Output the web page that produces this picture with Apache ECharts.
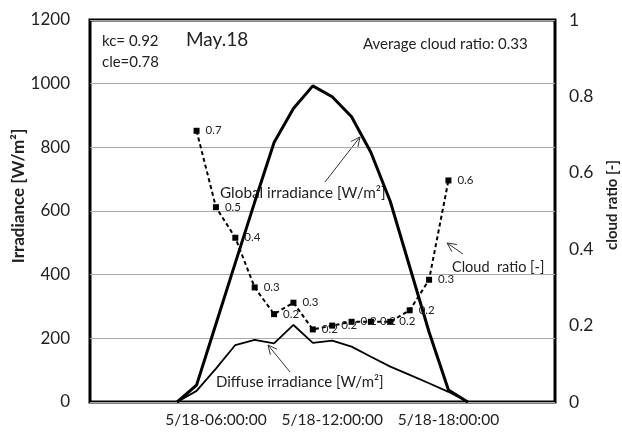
<!DOCTYPE html>
<html><head><meta charset="utf-8">
<script src="https://cdn.jsdelivr.net/npm/echarts@6/dist/echarts.min.js"></script>
<style>html,body{margin:0;padding:0;background:#fff}#c{width:622px;height:433px}</style>
</head><body><div id="c"></div>
<script>
var hours = ['00','01','02','03','04','05','06','07','08','09','10','11','12','13','14','15','16','17','18','19','20','21','22','23'];
var shownHours = ['06','12','18'];
var globalIrr = [null,null,null,null,0,53,245,437,628,815,922,993,959,896,784,630,425,220,38,0,null,null,null,null];
var diffuseIrr = [null,null,null,null,0,35,105,179,195,184,242,186,193,174,142,111,85,59,32,0,null,null,null,null];
var cloudRatio = [null,null,null,null,null,0.71,0.51,0.43,0.30,0.23,0.26,0.19,0.20,0.21,0.21,0.21,0.24,0.32,0.58,null,null,null,null,null];
var leftTicks = [0,200,400,600,800,1000,1200];
var rightTicks = [0,0.2,0.4,0.6,0.8,1];

var F = 'Lato, "Open Sans", sans-serif';
var chart = echarts.init(document.getElementById('c'));

function arrow(x1,y1,x2,y2){
  var a = Math.atan2(y2-y1,x2-x1), L = 10, w = 0.45;
  return [
    {type:'line',shape:{x1:x1,y1:y1,x2:x2,y2:y2},style:{stroke:'#333',lineWidth:1}},
    {type:'polyline',shape:{points:[[x2-L*Math.cos(a-w),y2-L*Math.sin(a-w)],[x2,y2],[x2-L*Math.cos(a+w),y2-L*Math.sin(a+w)]]},style:{stroke:'#333',fill:null,lineWidth:1}}
  ];
}
function txt(x,y,s,size,align,weight,rot){
  return {type:'text',x:x,y:y,rotation:rot||0,style:{text:s,font:(weight||'normal')+' '+size+'px '+F,fill:'#222',textAlign:align||'left',textVerticalAlign:'middle'}};
}

var graphics = [
  txt(102,41,'kc= 0.92',15),
  txt(102,62,'cle=0.78',15),
  txt(186,40,'May.18',19),
  txt(363,44,'Average cloud ratio: 0.33',15),
  txt(220,193,'Global irradiance [W/m\u00b2]',15.3),
  txt(216,382,'Diffuse irradiance [W/m\u00b2]',15),
  txt(452,267,'Cloud  ratio [-]',14.5),
  txt(19,196,'Irradiance [W/m\u00b2]',17,'center','bold',Math.PI/2),
  txt(612,205,'cloud ratio [-]',15,'center','bold',Math.PI/2)
].concat(arrow(325,182,360,137)).concat(arrow(290,372,268,345)).concat(arrow(463,254,447,243));

chart.setOption({
  animation:false,
  textStyle:{fontFamily:F},
  grid:{left:90,right:67,top:20,bottom:31,containLabel:false,outerBoundsMode:'none',show:true,borderColor:'#000',borderWidth:3,backgroundColor:'transparent'},
  xAxis:{type:'category',data:hours,boundaryGap:true,
    axisLine:{show:false},axisTick:{show:false},
    axisLabel:{interval:0,margin:10,fontSize:15.5,color:'#222',fontFamily:F,
      formatter:function(v){return shownHours.indexOf(v)>=0?'5/18-'+v+':00:00':'';}}},
  yAxis:[
    {type:'value',min:leftTicks[0],max:leftTicks[leftTicks.length-1],interval:200,
     axisLine:{show:false},axisTick:{show:false},
     axisLabel:{margin:20,fontSize:17,color:'#222',fontFamily:F,formatter:function(v){return String(v);}},
     splitLine:{show:true,lineStyle:{color:'#a8a8a8',width:1}}},
    {type:'value',min:rightTicks[0],max:rightTicks[rightTicks.length-1],interval:0.2,
     axisLine:{show:false},axisTick:{show:false},
     axisLabel:{margin:14,fontSize:17.5,color:'#222',fontFamily:F,formatter:function(v){return String(Math.round(v*10)/10);}},
     splitLine:{show:false}}
  ],
  series:[
    {name:'Global',type:'line',yAxisIndex:0,data:globalIrr,symbol:'none',
     lineStyle:{color:'#000',width:3},z:3},
    {name:'Diffuse',type:'line',yAxisIndex:0,data:diffuseIrr,symbol:'none',
     lineStyle:{color:'#000',width:1.8},z:3},
    {name:'Cloud',type:'line',yAxisIndex:1,data:cloudRatio,symbol:'rect',symbolSize:6,
     itemStyle:{color:'#000'},lineStyle:{color:'#000',width:2,type:[4,3]},
     label:{show:true,position:'right',distance:6,fontSize:11.5,color:'#222',fontFamily:F,
       formatter:function(p){return p.value.toFixed(1);}},z:4}
  ],
  graphic:graphics
});
</script></body></html>
